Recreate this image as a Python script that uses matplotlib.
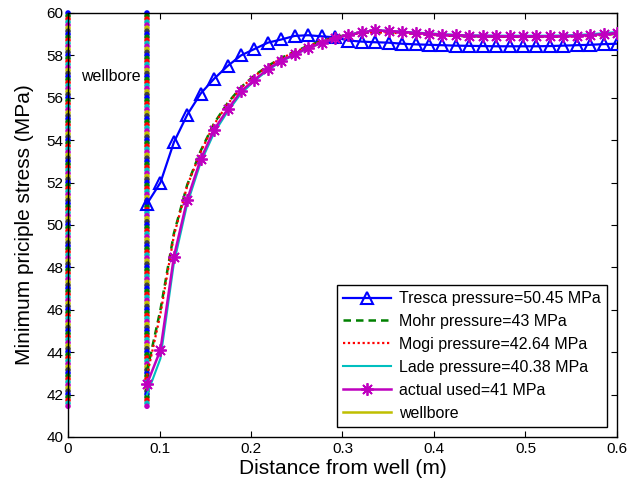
import matplotlib
matplotlib.use('Agg')
import matplotlib.pyplot as plt
import numpy as np

plt.rcParams['font.family'] = ['Liberation Sans', 'DejaVu Sans']

# radial positions (m), from wellbore radius to 0.6 m
r_well = 0.0863
x_pts = [0.0863, 0.1010, 0.1157, 0.1303, 0.1450, 0.1597, 0.1744, 0.1891, 0.2037,
         0.2184, 0.2331, 0.2478, 0.2624, 0.2771, 0.2918, 0.3065, 0.3212, 0.3358,
         0.3505, 0.3652, 0.3799, 0.3946, 0.4092, 0.4239, 0.4386, 0.4533, 0.4679,
         0.4826, 0.4973, 0.5120, 0.5267, 0.5413, 0.5560, 0.5707, 0.5854, 0.6000]

tresca = [51.0, 52.0, 53.9, 55.2, 56.2, 56.9, 57.5, 58.0, 58.3, 58.6, 58.75, 58.92,
          58.95, 58.9, 58.85, 58.7, 58.65, 58.62, 58.6, 58.55, 58.52, 58.5, 58.48,
          58.46, 58.45, 58.44, 58.43, 58.43, 58.43, 58.43, 58.44, 58.46, 58.48,
          58.5, 58.53, 58.55]
mohr = [43.1, 46.0, 49.6, 51.9, 53.5, 54.8, 55.75, 56.5, 57.05, 57.5, 57.88, 58.18,
        58.45, 58.68, 58.85, 58.98, 59.06, 59.1, 59.08, 59.05, 59.02, 58.98, 58.95,
        58.92, 58.9, 58.9, 58.89, 58.88, 58.88, 58.88, 58.88, 58.89, 58.9, 58.93,
        58.97, 59.02]
mogi = [42.9, 45.8, 49.5, 51.85, 53.45, 54.75, 55.7, 56.47, 57.02, 57.48, 57.86,
        58.16, 58.43, 58.66, 58.84, 58.97, 59.05, 59.09, 59.07, 59.04, 59.01, 58.97,
        58.94, 58.91, 58.89, 58.89, 58.88, 58.87, 58.87, 58.87, 58.87, 58.88, 58.89,
        58.92, 58.96, 59.01]
lade = [42.0, 43.7, 48.2, 51.0, 52.95, 54.35, 55.35, 56.2, 56.8, 57.3, 57.72, 58.03,
        58.34, 58.58, 58.8, 58.97, 59.1, 59.19, 59.16, 59.12, 59.08, 59.04, 59.0,
        58.97, 58.95, 58.94, 58.93, 58.93, 58.93, 58.93, 58.93, 58.94, 58.96, 59.0,
        59.05, 59.1]
actual = [42.5, 44.1, 48.5, 51.2, 53.1, 54.5, 55.45, 56.3, 56.85, 57.35, 57.75, 58.05,
          58.35, 58.58, 58.8, 58.96, 59.09, 59.18, 59.15, 59.11, 59.06, 59.02, 58.98,
          58.95, 58.93, 58.92, 58.91, 58.9, 58.9, 58.9, 58.9, 58.91, 58.93, 58.96,
          59.0, 59.05]

labels = ['Tresca pressure=50.45 MPa', 'Mohr pressure=43 MPa', 'Mogi pressure=42.64 MPa',
          'Lade pressure=40.38 MPa', 'actual used=41 MPa', 'wellbore']

# wellbore lines (drawn as stacked coloured circles, matlab style)
wellbore_x = [0.0, r_well]
wellbore_top = 60.0
wellbore_bottom = 41.45

matlab_colors = [(0, 0, 1), (0, 0.5, 0), (1, 0, 0), (0, 0.75, 0.75),
                 (0.75, 0, 0.75), (0.75, 0.75, 0), (0.25, 0.25, 0.25)]

fig = plt.figure(figsize=(6.27, 4.92), dpi=100)
ax = fig.add_axes([0.1085, 0.1118, 0.8755, 0.8618])

n_mk = 131
yy = np.linspace(wellbore_top, wellbore_bottom, n_mk)
for xw in wellbore_x:
    cols = [matlab_colors[i % 7] for i in range(n_mk)]
    ax.scatter(np.full(n_mk, xw), yy, s=16, c=cols, marker='o', linewidths=0,
               zorder=2, clip_on=False)

ax.plot(x_pts, tresca, color='blue', lw=1.6, marker='^', ms=8, mfc='none', mew=1.5,
        label=labels[0], zorder=3)
ax.plot(x_pts, mohr, color=(0, 0.5, 0), lw=1.8, ls=(0, (3, 2)), label=labels[1], zorder=3)
ax.plot(x_pts, mogi, color='red', lw=1.6, ls=(0, (1, 1.2)), label=labels[2], zorder=3)
ax.plot(x_pts, lade, color=(0, 0.75, 0.75), lw=1.5, label=labels[3], zorder=3)
ax.plot(x_pts, actual, color=(0.75, 0, 0.75), lw=1.8, marker=(8, 2, 0), ms=9, mew=1.3,
        label=labels[4], zorder=4)
ax.plot([], [], color=(0.75, 0.75, 0), lw=1.8, label=labels[5])

ax.text(0.014, 57.0, 'wellbore', fontsize=11.5, va='center', ha='left')

ax.set_xlim(0, 0.6)
ax.set_ylim(40, 60)
ax.set_xticks(np.arange(0, 0.61, 0.1))
ax.set_xticklabels(['0', '0.1', '0.2', '0.3', '0.4', '0.5', '0.6'])
ax.set_yticks(np.arange(40, 61, 2))
ax.tick_params(direction='in', top=True, right=True, length=4, labelsize=11, width=0.8)
for s in ax.spines.values():
    s.set_linewidth(1.0)

ax.set_xlabel('Distance from well (m)', fontsize=15, labelpad=2)
ax.set_ylabel('Minimum priciple stress (MPa)', fontsize=15, labelpad=9)

leg = ax.legend(loc='lower right', fontsize=11.5, frameon=True, fancybox=False,
                edgecolor='black', framealpha=1, handlelength=3.0, labelspacing=0.5,
                borderaxespad=0.6, borderpad=0.4, handletextpad=0.5)
leg.get_frame().set_linewidth(1.0)

fig.savefig('out.png', dpi=100)
